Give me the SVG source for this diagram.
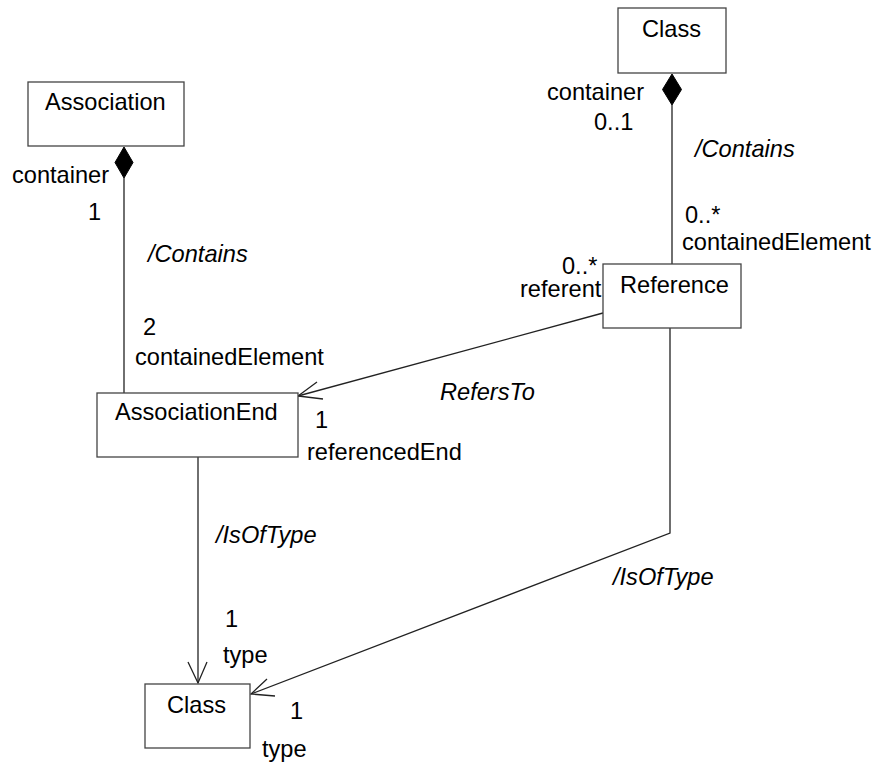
<svg xmlns="http://www.w3.org/2000/svg" width="882" height="767" viewBox="0 0 882 767">
<style>
  .box { fill: #ffffff; stroke: #444444; stroke-width: 1.3; }
  .lbl { font-family: "Liberation Sans", Arial, sans-serif; font-size: 23.6px; fill: #000000; }
  .it { font-style: italic; }
  .edge { fill: none; stroke: #222222; stroke-width: 1.3; }
  .diamond { fill: #000000; stroke: #000000; stroke-width: 1; }
</style>
<rect width="882" height="767" fill="#ffffff"/>
<g id="connectors">
  <g id="assoc-contains">
    <polygon class="diamond" points="124,147 133,162.5 124,178 115,162.5"/>
    <line class="edge" x1="124" y1="178" x2="124" y2="393"/>
    <text class="lbl" x="12" y="183">container</text>
    <text class="lbl" x="88" y="220">1</text>
    <text class="lbl it" x="148" y="262">/Contains</text>
    <text class="lbl" x="143" y="335">2</text>
    <text class="lbl" x="135" y="365">containedElement</text>
  </g>
  <g id="class-contains">
    <polygon class="diamond" points="672,74 681.5,89.5 672,105 662.5,89.5"/>
    <line class="edge" x1="672" y1="105" x2="672" y2="264"/>
    <text class="lbl" x="547" y="100">container</text>
    <text class="lbl" x="594" y="130">0..1</text>
    <text class="lbl it" x="695" y="157">/Contains</text>
    <text class="lbl" x="685" y="223">0..*</text>
    <text class="lbl" x="682" y="250">containedElement</text>
  </g>
  <g id="refersto">
    <line class="edge" x1="603" y1="313" x2="298" y2="396"/>
    <polyline class="edge" points="317,382 298,396 323,399"/>
    <text class="lbl" x="562" y="274">0..*</text>
    <text class="lbl" x="520" y="297">referent</text>
    <text class="lbl it" x="440" y="400">RefersTo</text>
    <text class="lbl" x="315" y="428">1</text>
    <text class="lbl" x="307" y="460">referencedEnd</text>
  </g>
  <g id="assocend-isoftype">
    <line class="edge" x1="198" y1="457" x2="198" y2="683"/>
    <polyline class="edge" points="188,662 198,683 207,662"/>
    <text class="lbl it" x="216" y="543">/IsOfType</text>
    <text class="lbl" x="225" y="627">1</text>
    <text class="lbl" x="223" y="663">type</text>
  </g>
  <g id="reference-isoftype">
    <polyline class="edge" points="670,328 670,533 251,694"/>
    <polyline class="edge" points="267,679 251,694 275,696"/>
    <text class="lbl it" x="613" y="585">/IsOfType</text>
    <text class="lbl" x="290" y="719">1</text>
    <text class="lbl" x="262" y="757">type</text>
  </g>
</g>
<g id="node-association">
  <rect class="box" x="28" y="82" width="156" height="64"/>
  <text class="lbl" x="45" y="110">Association</text>
</g>
<g id="node-class-top">
  <rect class="box" x="618" y="8" width="108" height="65"/>
  <text class="lbl" x="642" y="37">Class</text>
</g>
<g id="node-reference">
  <rect class="box" x="603" y="264" width="138" height="64"/>
  <text class="lbl" x="620" y="293">Reference</text>
</g>
<g id="node-associationend">
  <rect class="box" x="97" y="393" width="201" height="64"/>
  <text class="lbl" x="115" y="420">AssociationEnd</text>
</g>
<g id="node-class-bottom">
  <rect class="box" x="145" y="684" width="105" height="64"/>
  <text class="lbl" x="167" y="713">Class</text>
</g>
</svg>
